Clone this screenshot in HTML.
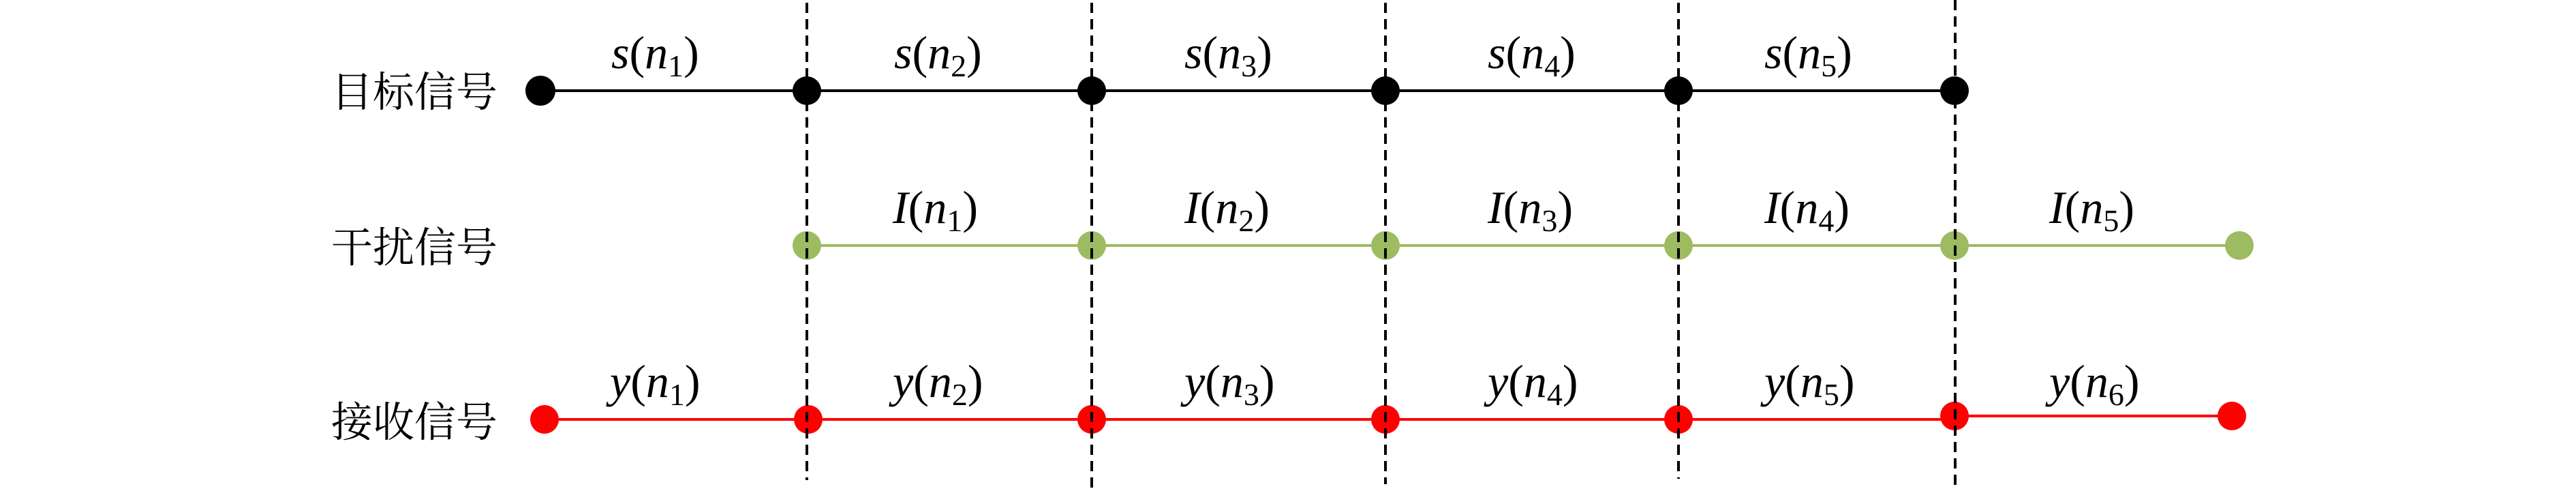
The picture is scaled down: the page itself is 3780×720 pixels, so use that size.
<!DOCTYPE html>
<html><head><meta charset="utf-8">
<style>
html,body{margin:0;padding:0;background:#fff;}
svg{display:block;}
.m{font-family:"Liberation Serif",serif;font-size:68px;}
.i{font-style:italic;}
.sub{font-size:46px;}
.cn{font-family:"Liberation Serif","Noto Serif CJK SC",serif;font-size:61px;}
</style></head>
<body>
<svg width="3780" height="720" viewBox="0 0 3780 720" xmlns="http://www.w3.org/2000/svg">
<!-- rows -->
<line x1="793" y1="133" x2="2868" y2="133" stroke="#000" stroke-width="4"/>
<line x1="1184" y1="360" x2="3286" y2="360" stroke="#9dbb61" stroke-width="4"/>
<line x1="799" y1="615" x2="2868" y2="615" stroke="#ff0000" stroke-width="4"/>
<line x1="2868" y1="610" x2="3275" y2="610" stroke="#ff0000" stroke-width="4"/>
<!-- dots black -->
<g fill="#000">
<circle cx="793" cy="133" r="22"/><circle cx="1184" cy="133" r="21"/><circle cx="1602" cy="133" r="21"/>
<circle cx="2033" cy="133" r="21"/><circle cx="2463" cy="133" r="21"/><circle cx="2868" cy="133" r="21"/>
</g>
<g fill="#9dbb61">
<circle cx="1184" cy="360" r="21"/><circle cx="1602" cy="360" r="21"/><circle cx="2033" cy="360" r="21"/>
<circle cx="2463" cy="360" r="21"/><circle cx="2868" cy="360" r="21"/><circle cx="3286" cy="360" r="21"/>
</g>
<g fill="#ff0000">
<circle cx="799" cy="615" r="21"/><circle cx="1186" cy="615" r="21"/><circle cx="1602" cy="615" r="21"/>
<circle cx="2033" cy="615" r="21"/><circle cx="2463" cy="615" r="21"/><circle cx="2868" cy="610" r="21"/><circle cx="3275" cy="610" r="21"/>
</g>
<!-- dashed lines -->
<g stroke="#000" stroke-width="4" stroke-dasharray="15,9">
<line x1="1184" y1="4" x2="1184" y2="704"/>
<line x1="1602" y1="4" x2="1602" y2="716"/>
<line x1="2033" y1="4" x2="2033" y2="710"/>
<line x1="2463" y1="4" x2="2463" y2="702"/>
<line x1="2869" y1="0" x2="2869" y2="720"/>
</g>
<!-- Chinese labels -->
<g class="cn" text-anchor="end">
<text x="730" y="156">目标信号</text>
<text x="730" y="384">干扰信号</text>
<text x="730" y="640">接收信号</text>
</g>
<!-- math labels -->
<g class="m">
<text x="897" y="100"><tspan class="i">s</tspan>(<tspan class="i">n</tspan><tspan class="sub" dy="12">1</tspan><tspan dy="-12">)</tspan></text>
<text x="1312" y="100"><tspan class="i">s</tspan>(<tspan class="i">n</tspan><tspan class="sub" dy="12">2</tspan><tspan dy="-12">)</tspan></text>
<text x="1738" y="100"><tspan class="i">s</tspan>(<tspan class="i">n</tspan><tspan class="sub" dy="12">3</tspan><tspan dy="-12">)</tspan></text>
<text x="2183" y="100"><tspan class="i">s</tspan>(<tspan class="i">n</tspan><tspan class="sub" dy="12">4</tspan><tspan dy="-12">)</tspan></text>
<text x="2589" y="100"><tspan class="i">s</tspan>(<tspan class="i">n</tspan><tspan class="sub" dy="12">5</tspan><tspan dy="-12">)</tspan></text>

<text x="1310" y="327"><tspan class="i">I</tspan>(<tspan class="i">n</tspan><tspan class="sub" dy="12">1</tspan><tspan dy="-12">)</tspan></text>
<text x="1738" y="327"><tspan class="i">I</tspan>(<tspan class="i">n</tspan><tspan class="sub" dy="12">2</tspan><tspan dy="-12">)</tspan></text>
<text x="2183" y="327"><tspan class="i">I</tspan>(<tspan class="i">n</tspan><tspan class="sub" dy="12">3</tspan><tspan dy="-12">)</tspan></text>
<text x="2589" y="327"><tspan class="i">I</tspan>(<tspan class="i">n</tspan><tspan class="sub" dy="12">4</tspan><tspan dy="-12">)</tspan></text>
<text x="3007" y="327"><tspan class="i">I</tspan>(<tspan class="i">n</tspan><tspan class="sub" dy="12">5</tspan><tspan dy="-12">)</tspan></text>

<text x="895" y="582"><tspan class="i">y</tspan>(<tspan class="i">n</tspan><tspan class="sub" dy="12">1</tspan><tspan dy="-12">)</tspan></text>
<text x="1310" y="582"><tspan class="i">y</tspan>(<tspan class="i">n</tspan><tspan class="sub" dy="12">2</tspan><tspan dy="-12">)</tspan></text>
<text x="1738" y="582"><tspan class="i">y</tspan>(<tspan class="i">n</tspan><tspan class="sub" dy="12">3</tspan><tspan dy="-12">)</tspan></text>
<text x="2183" y="582"><tspan class="i">y</tspan>(<tspan class="i">n</tspan><tspan class="sub" dy="12">4</tspan><tspan dy="-12">)</tspan></text>
<text x="2589" y="582"><tspan class="i">y</tspan>(<tspan class="i">n</tspan><tspan class="sub" dy="12">5</tspan><tspan dy="-12">)</tspan></text>
<text x="3007" y="582"><tspan class="i">y</tspan>(<tspan class="i">n</tspan><tspan class="sub" dy="12">6</tspan><tspan dy="-12">)</tspan></text>
</g>
</svg>
</body></html>
